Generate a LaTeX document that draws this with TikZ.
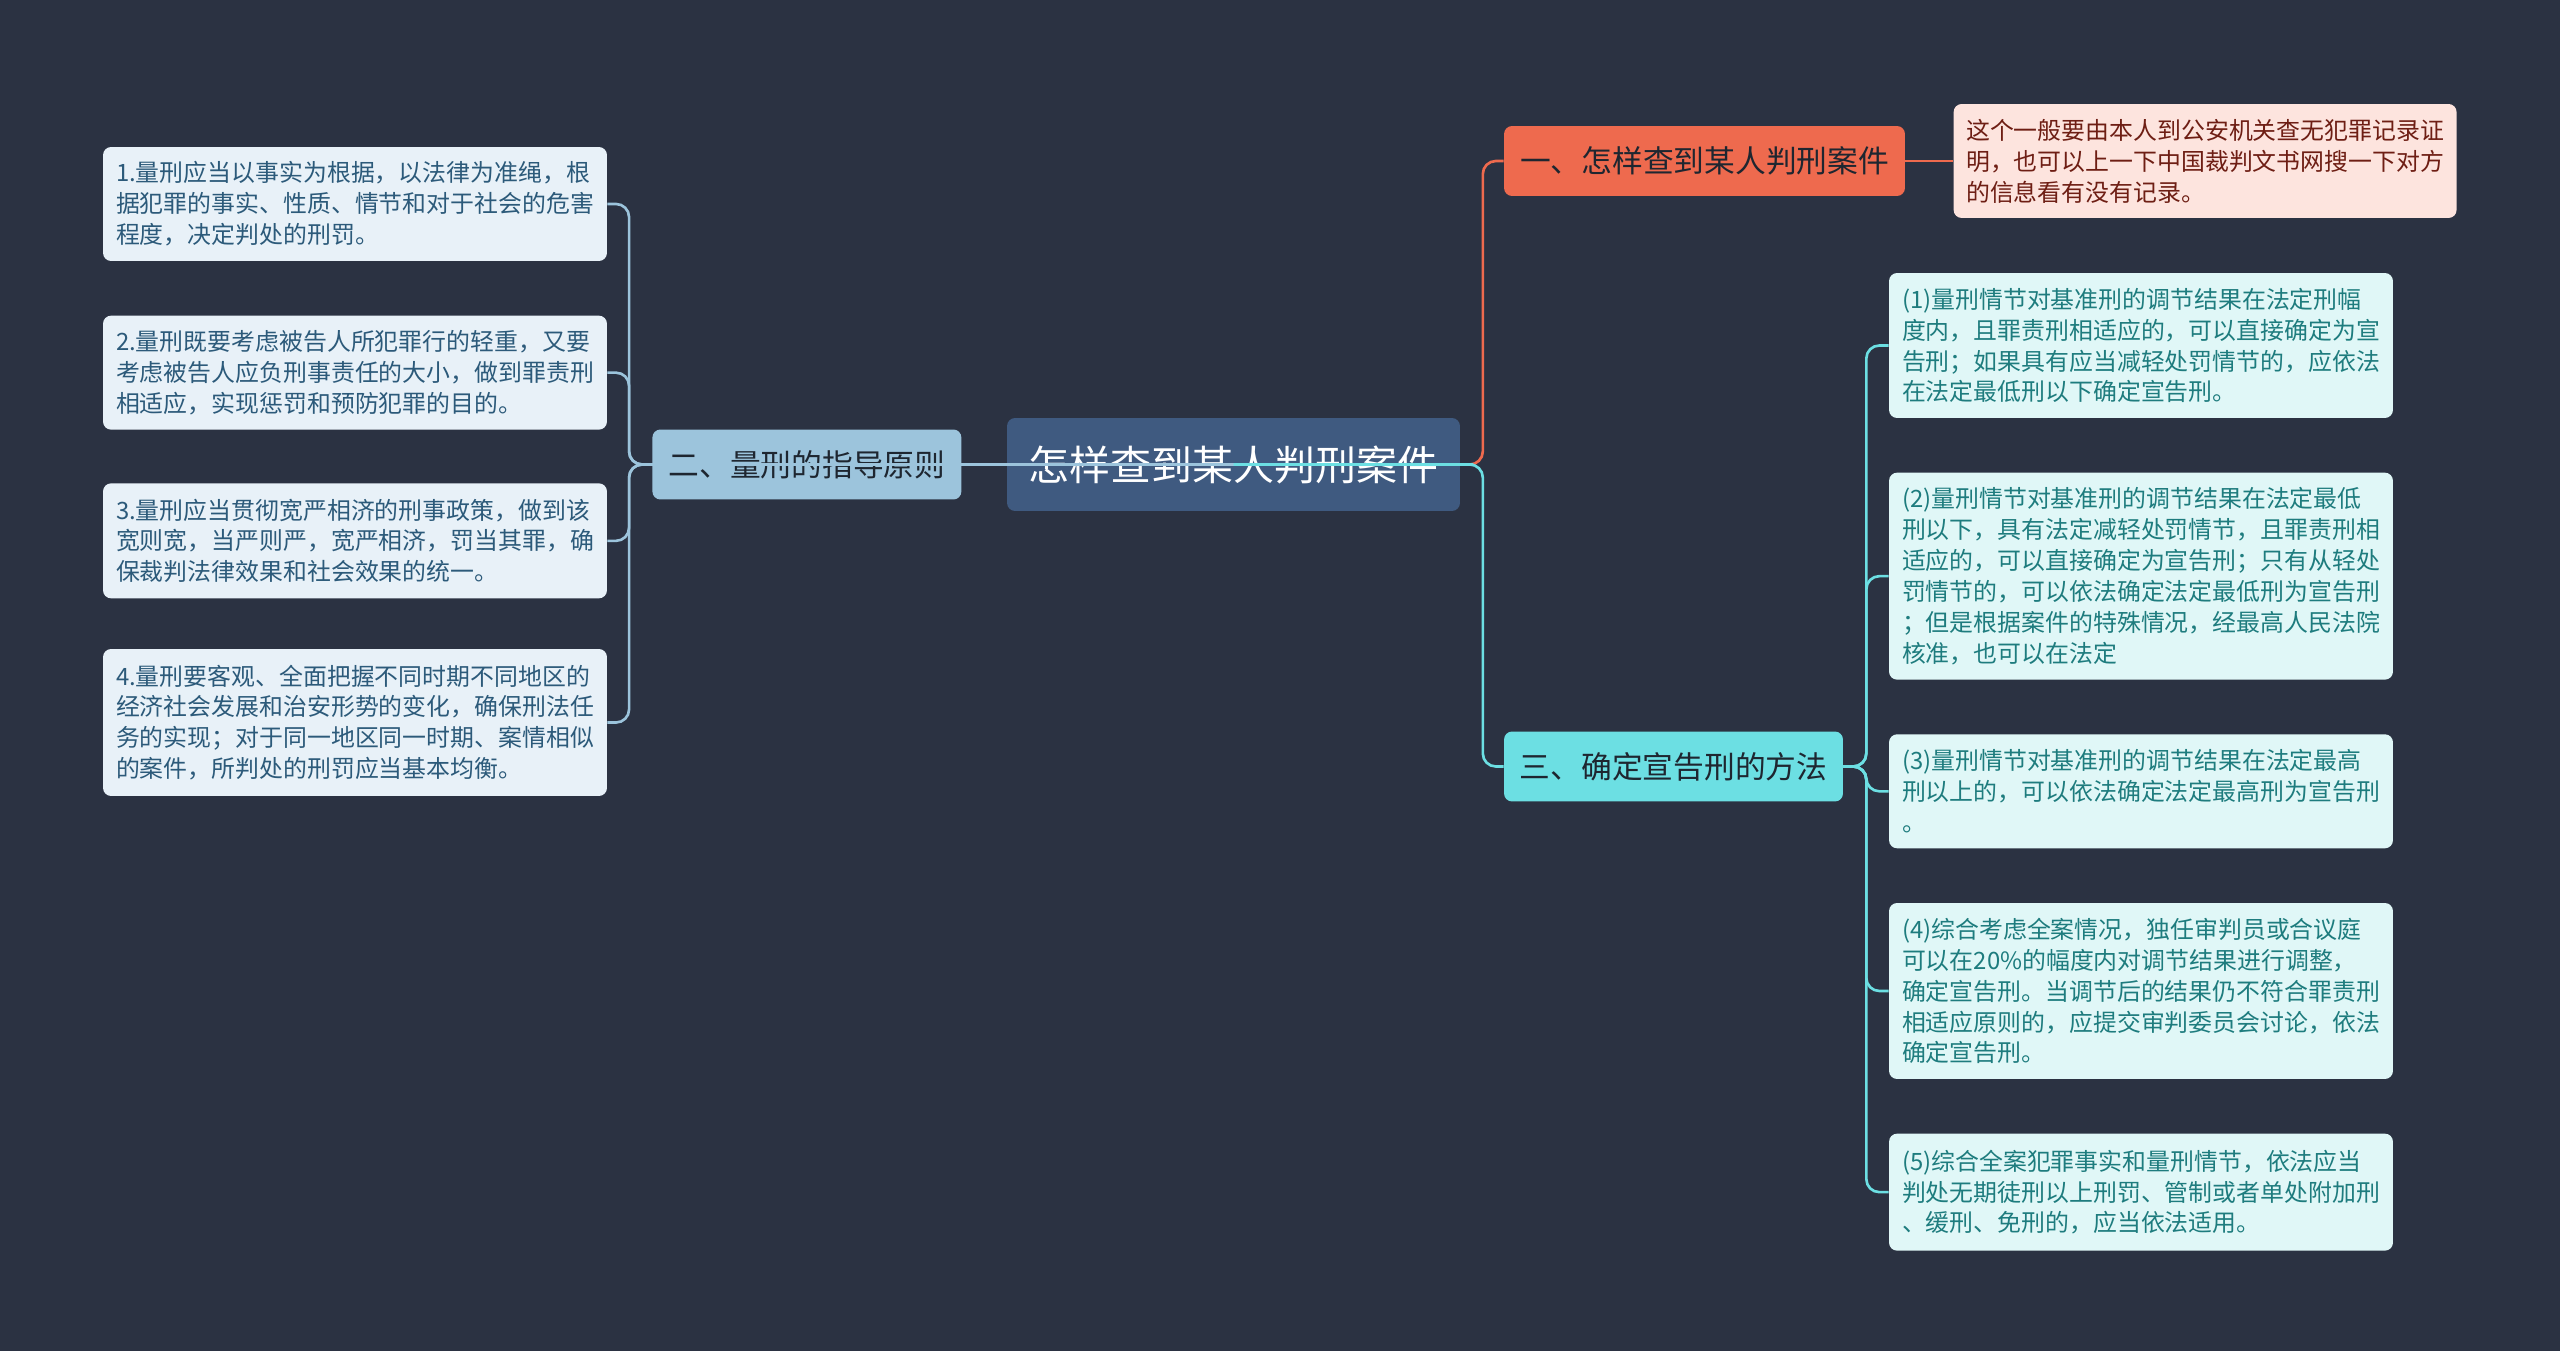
\documentclass[tikz,border=0pt]{standalone}
\usepackage{fontspec}
\setmainfont{Noto Sans CJK SC}
\usetikzlibrary{positioning}

\definecolor{bgc}{RGB}{43,50,66}
\definecolor{rootc}{RGB}{63,90,128}
\definecolor{lblue}{RGB}{156,196,220}
\definecolor{lleaf}{RGB}{232,241,248}
\definecolor{ltext}{RGB}{44,90,122}
\definecolor{orng}{RGB}{238,106,78}
\definecolor{pinkc}{RGB}{253,228,222}
\definecolor{ntext}{RGB}{110,30,20}
\definecolor{cyanc}{RGB}{108,223,227}
\definecolor{rleaf}{RGB}{224,247,247}
\definecolor{rtext}{RGB}{30,124,126}
\definecolor{dtext}{RGB}{30,38,48}

\begin{document}
\begin{tikzpicture}[x=0.02cm, y=0.02cm,
    node distance=1.08cm,
    box/.style={rounded corners=0.16cm, align=left, inner sep=0pt},
    rootbox/.style={box, fill=rootc, text=white, minimum width=9.06cm, minimum height=1.86cm, font=\fontsize{23.3pt}{28pt}\selectfont},
    branch/.style={box, minimum height=1.4cm, text=dtext, font=\fontsize{17.5pt}{21pt}\selectfont},
    leaf/.style={box, minimum width=10.08cm, font=\fontsize{13.6pt}{17.6pt}\selectfont},
    leafl/.style={leaf, fill=lleaf, text=ltext},
    leafr/.style={leaf, fill=rleaf, text=rtext},
    link/.style={line width=1.5pt, rounded corners=0.26cm}]

    \fill[bgc] (0,0) rectangle (2560,-1351);

    \node[rootbox] (root) at (1233.5,-464.5) {怎样查到某人判刑案件};
    \node[branch, fill=lblue, minimum width=6.18cm, left=0.9cm of root] (princ) {二、量刑的指导原则};
    \node[branch, fill=orng, minimum width=8.02cm] (find) at (1704.5,-161) {一、怎样查到某人判刑案件};
    \node[branch, fill=cyanc, minimum width=6.78cm] (method) at (1673.5,-766.5) {三、确定宣告刑的方法};

    \node[leaf, fill=pinkc, text=ntext, minimum width=10.06cm, minimum height=2.28cm, right=0.96cm of find] (note)
      {这个一般要由本人到公安机关查无犯罪记录证\\明，也可以上一下中国裁判文书网搜一下对方\\的信息看有没有记录。};

    % left side
    \node[leafl, minimum height=2.28cm] (l1) at (355,-204)
      {1.量刑应当以事实为根据，以法律为准绳，根\\据犯罪的事实、性质、情节和对于社会的危害\\程度，决定判处的刑罚。};
    \node[leafl, minimum height=2.28cm, below=of l1] (l2)
      {2.量刑既要考虑被告人所犯罪行的轻重，又要\\考虑被告人应负刑事责任的大小，做到罪责刑\\相适应，实现惩罚和预防犯罪的目的。};
    \node[leafl, minimum height=2.3cm, below=1.06cm of l2] (l3)
      {3.量刑应当贯彻宽严相济的刑事政策，做到该\\宽则宽，当严则严，宽严相济，罚当其罪，确\\保裁判法律效果和社会效果的统一。};
    \node[leafl, minimum height=2.94cm, below=1.0cm of l3] (l4)
      {4.量刑要客观、全面把握不同时期不同地区的\\经济社会发展和治安形势的变化，确保刑法任\\务的实现；对于同一地区同一时期、案情相似\\的案件，所判处的刑罚应当基本均衡。};

    % right side
    \node[leafr, minimum height=2.9cm] (r1) at (2141,-345.5)
      {(1)量刑情节对基准刑的调节结果在法定刑幅\\度内，且罪责刑相适应的，可以直接确定为宣\\告刑；如果具有应当减轻处罚情节的，应依法\\在法定最低刑以下确定宣告刑。};
    \node[leafr, minimum height=4.14cm, below=of r1] (r2)
      {(2)量刑情节对基准刑的调节结果在法定最低\\刑以下，具有法定减轻处罚情节，且罪责刑相\\适应的，可以直接确定为宣告刑；只有从轻处\\罚情节的，可以依法确定法定最低刑为宣告刑\\；但是根据案件的特殊情况，经最高人民法院\\核准，也可以在法定};
    \node[leafr, minimum height=2.28cm, below=of r2] (r3)
      {(3)量刑情节对基准刑的调节结果在法定最高\\刑以上的，可以依法确定法定最高刑为宣告刑\\。};
    \node[leafr, minimum height=3.52cm, below=of r3] (r4)
      {(4)综合考虑全案情况，独任审判员或合议庭\\可以在20\%的幅度内对调节结果进行调整，\\确定宣告刑。当调节后的结果仍不符合罪责刑\\相适应原则的，应提交审判委员会讨论，依法\\确定宣告刑。};
    \node[leafr, minimum height=2.34cm, below=of r4] (r5)
      {(5)综合全案犯罪事实和量刑情节，依法应当\\判处无期徒刑以上刑罚、管制或者单处附加刑\\、缓刑、免刑的，应当依法适用。};

    % connectors
    \draw[link, lblue] (root.center) -- (princ.west);
    \foreach \n in {l1,l2,l3,l4}
      \draw[link, lblue] (princ.west) -- ++(-23,0) |- (\n.east);
    \draw[link, orng] (root.east) -- ++(22.5,0) |- (find.west);
    \draw[link, cyanc] (root.center) -- (root.east) -- ++(22.5,0) |- (method.west);
    \foreach \n in {r1,r2,r3,r4,r5}
      \draw[link, cyanc] (method.east) -- ++(23,0) |- (\n.west);
    \draw[link, orng] (find.east) -- (note.west);
  \end{tikzpicture}
\end{document}
